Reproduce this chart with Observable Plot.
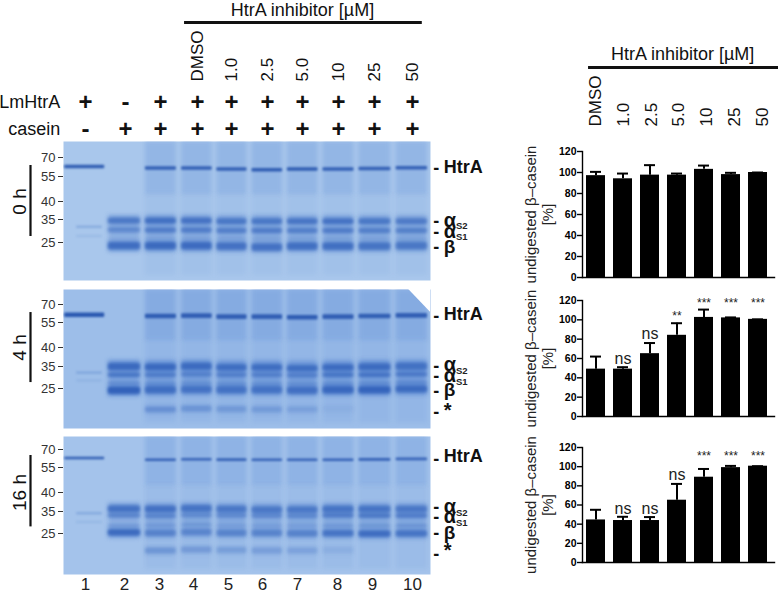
<!DOCTYPE html>
<html><head><meta charset="utf-8">
<script src="https://cdn.jsdelivr.net/npm/d3@7"></script>
<script src="https://cdn.jsdelivr.net/npm/@observablehq/plot@0.6"></script>
<style>
html,body{margin:0;padding:0;background:#fff}
#fig{position:relative;width:778px;height:594px;overflow:hidden;font-family:"Liberation Sans",Arial,sans-serif}
#fig svg{position:absolute;overflow:visible;max-width:none}
.thin{filter:blur(.9px)}
.band{filter:blur(1.4px)}
.halo{filter:blur(2.2px)}
.smear{filter:blur(2.2px)}
</style></head><body><div id="fig"></div>
<script>
// ---------- lanes ----------
const lanes = [1,2,3,4,5,6,7,8,9,10];
const lanePlus  = ["+","-","+","+","+","+","+","+","+","+"];
const caseinPlus= ["-","+","+","+","+","+","+","+","+","+"];
const doseLabels = ["DMSO","1.0","2.5","5.0","10","25","50"];
const doseLanes  = [4,5,6,7,8,9,10];
const kdaTicks = [70,55,40,35,25];

// ---------- gel band positions (apparent kDa per lane) and staining (0-1) ----------
const htrA0 = [62.5,null,61.3,61.3,60.6,60,60.6,60.6,61,61.5];
const htrA0i= [.95,0,.9,.9,.9,.95,.95,.9,.9,.9];
const as2_0 = [null,34.2,34.2,34.2,34,34,34,34,34,34];
const as2_0i= [0,.6,.72,.68,.62,.62,.65,.68,.62,.56];
const as1_0 = [null,30.3,30.2,30.2,30,30,30,30,30,30];
const as1_0i= [0,.42,.55,.55,.52,.55,.52,.55,.52,.5];
const up0   = [null,26.5,26.5,26.5,26.5,26.5,26.5,26.5,26.5,26.5];
const up0i  = [0,.06,.1,.1,.1,.1,.1,.1,.1,.1];
const beta0 = [null,23.6,23.6,23.6,23.4,23,23.4,23.4,23.4,23.6];
const beta0i= [0,.75,.8,.78,.68,.68,.72,.72,.66,.6];

const htrA4 = [61,null,60,60.3,59.5,59.5,59,59.5,60,60.5];
const htrA4i= [1,0,.95,.92,.92,.92,.95,.92,.92,.92];
const as2_4 = [null,34.5,34.3,34.6,34.2,34.2,33.9,34.2,34.4,34.6];
const as2_4i= [0,.8,.8,.75,.72,.72,.72,.75,.75,.66];
const as1_4 = [null,31,31,31.3,31,31,30.8,31,31,31.3];
const as1_4i= [0,.6,.5,.44,.46,.46,.46,.6,.64,.55];
const up4   = [null,27.2,27,27.2,27,27,27,27,27.2,27.6];
const up4i  = [0,.28,.26,.22,.22,.22,.22,.26,.26,.3];
const beta4 = [null,24.2,24.4,24.6,24.4,24.4,24.2,24.4,24.4,24.8];
const beta4i= [0,.95,.72,.64,.64,.64,.68,.82,.88,.75];
const star4 = [null,null,17,17.3,17.1,17,17,17.2,null,null];
const star4i= [0,0,.34,.3,.25,.24,.18,.06,0,0];

const htrA16 = [62.5,null,61,61.5,61.2,61,61,61,61.4,61.8];
const htrA16i= [.95,0,.9,.88,.88,.88,.88,.9,.9,.88];
const as2_16 = [null,35.5,35.4,35.6,35.4,35.2,35.2,35.4,35.4,35.4];
const as2_16i= [0,.68,.68,.64,.58,.58,.58,.64,.64,.58];
const as1_16 = [null,33,32.8,33.1,33,32.9,32.8,33,32.9,32.9];
const as1_16i= [0,.46,.44,.36,.38,.4,.4,.55,.6,.55];
const up16   = [null,28.4,28.6,28.8,28.4,28.4,28.4,28.4,28.4,28.4];
const up16i  = [0,.2,.2,.22,.14,.14,.14,.2,.22,.26];
const beta16 = [null,25.4,25.2,25.5,25.2,25.2,25,25.1,24.9,25];
const beta16i= [0,.8,.46,.42,.44,.44,.46,.64,.75,.64];
const star16 = [null,null,18.6,19,18.8,18.6,18.6,18.8,null,null];
const star16i= [0,0,.32,.28,.24,.24,.2,.1,0,0];

// lane 1 carries only two weak traces around 30 kDa
const trace0 = [31.6,27.6], trace4 = [32,28.4], trace16 = [34,30];
const traceOp = [.3,.12];

// ---------- bar charts ----------
const doses = doseLabels;
const mean0 = [97,94,97.5,97.5,103,98,100];
const top0  = [100.6,99,107,99,106.6,99.7,100];
const mean4 = [49,49,65,84,102.5,102,100.5];
const top4  = [62,51,76,96.5,110.6,102.5,100.5];
const mean16= [44.4,43.8,43.8,65,89,99,100.5];
const top16 = [55,47.7,47.4,82,97.6,100.8,100.5];
const sig4  = ["", "ns","ns","**","***","***","***"];
const sigY4 = [0,60,85,104,117,117,117];
const sig16 = ["", "ns","ns","ns","***","***","***"];
const sigY16= [0,56,56,91,111,111,111];

// ---------- shared helpers ----------
const FONT = "Liberation Sans, Arial, sans-serif";
const fig = document.getElementById("fig");
const place = (el, left, top) => { el.style.left = left+"px"; el.style.top = top+"px"; fig.append(el); };
const laneDomain = [0,...lanes,11];
const laneRange  = [45,85,125,160,197,231,267,302,338,374,412,447];
const laneX = {type:"linear", domain:laneDomain, range:laneRange};
const series = (vals, ints, half) => vals.map((k,i)=>k==null?null:{lane:lanes[i],k,half,op:ints[i]}).filter(Boolean);
const left = d => d.lane-(d.lane===1?.52:.43), right = d => d.lane+(d.lane===1?.48:.43);

function gel({kdaRange,bg,height,smearTop,smearMid,bodyTop,bodyOp,bodyBottom,bands,traces,labels,timeLabel,corner}){
  const haze = lanes.slice(2);
  const casein = lanes.slice(1);
  const htrARows = bands[0];
  const bandRows = bands.slice(1).flat();
  const traceRows = traces.map((k,i)=>({k,op:traceOp[i]}));
  return Plot.plot({
    width:500,height,marginLeft:63,marginRight:70,marginTop:0,marginBottom:0,
    style:{fontFamily:FONT,background:"transparent",overflow:"visible"},
    x:{...laneX,axis:null},
    y:{type:"linear",domain:[90,70,55,40,35,25,10],range:kdaRange,axis:null},
    marks:[
      Plot.frame({fill:bg,stroke:null}),
      Plot.rect(haze,{x1:d=>d-.43,x2:d=>d+.43,y1:90,y2:44,fill:"#4f82d2",fillOpacity:smearTop,className:"smear",clip:"frame"}),
      Plot.rect(haze,{x1:d=>d-.43,x2:d=>d+.43,y1:44,y2:12,fill:"#4f82d2",fillOpacity:smearMid,className:"smear",clip:"frame"}),
      Plot.rect(casein,{x1:d=>d-.4,x2:d=>d+.4,y1:bodyTop,y2:bodyBottom,fill:"#4a7bcc",fillOpacity:bodyOp,className:"smear",clip:"frame"}),
      Plot.rect(bandRows,{x1:left,x2:right,y1:d=>d.k+d.half*1.35,y2:d=>d.k-d.half*1.35,fill:"#4c7dce",fillOpacity:d=>d.op*.6,className:"halo",clip:"frame"}),
      Plot.rect(bandRows,{x1:left,x2:right,y1:d=>d.k+d.half*.85,y2:d=>d.k-d.half*.85,fill:"#2f5fb8",fillOpacity:"op",rx:2,className:"band",clip:"frame"}),
      Plot.rect(htrARows,{x1:left,x2:right,y1:d=>d.k+d.half,y2:d=>d.k-d.half,fill:"#2a58b0",fillOpacity:"op",rx:1,className:"thin",clip:"frame"}),
      Plot.rect(traceRows,{x1:.78,x2:1.42,y1:d=>d.k+.5,y2:d=>d.k-.5,fill:"#3d6cc0",fillOpacity:"op",className:"thin"}),
      corner ? Plot.area(corner,{x1:"lane",y1:"a",y2:"b",fill:"#fff",clip:"frame"}) : null,
      Plot.axisY({ticks:kdaTicks,anchor:"left",tickSize:5,tickPadding:3,fontSize:13,color:"#333",label:null,tickFormat:d=>d}),
      Plot.ruleX([-.375],{y1:timeLabel.barTop,y2:timeLabel.barBottom,strokeWidth:2.2,stroke:"#111"}),
      Plot.text([timeLabel.text],{x:-.63,y:40,rotate:-90,fontSize:timeLabel.size,fill:"#111"}),
      Plot.text(labels.filter(d=>d.dash!=null),{x:10.68,y:"dash",text:()=>"-",fontSize:18,fontWeight:"bold",fill:"#111"}),
      Plot.text(labels,{x:10.89,y:"k",text:"t",textAnchor:"start",fontSize:d=>d.size,fontWeight:"bold",fill:"#111"}),
      Plot.text(labels.filter(d=>d.sub),{x:11.24,y:"subk",text:"sub",textAnchor:"start",fontSize:9.5,fontWeight:"bold",fill:"#222"})
    ]
  });
}

function bars({mean,top,sig,sigY,height,bottom}){
  const rows = doses.map((d,i)=>({dose:d,mean:mean[i],top:top[i],sig:sig?sig[i]:"",sigY:sigY?sigY[i]:0}));
  return Plot.plot({
    width:268,height,marginLeft:72,marginRight:4,marginTop:12,marginBottom:bottom,
    style:{fontFamily:FONT,background:"transparent",overflow:"visible"},
    x:{type:"band",domain:doses,range:[75,259],paddingInner:.29,paddingOuter:0,axis:null},
    y:{domain:[0,120],axis:null},
    marks:[
      Plot.barY(rows,{x:"dose",y:"mean",fill:"#000"}),
      Plot.ruleX(rows,{x:"dose",y1:"mean",y2:"top",stroke:"#000",strokeWidth:2}),
      Plot.tickY(rows,{x:"dose",y:"top",insetLeft:4,insetRight:4,stroke:"#000",strokeWidth:2}),
      Plot.frame({anchor:"left",strokeWidth:1.4,stroke:"#000"}),
      Plot.frame({anchor:"bottom",strokeWidth:1.4,stroke:"#000"}),
      Plot.axisY({ticks:d3.range(0,121,20),tickSize:5,tickPadding:1,fontSize:10.5,fontWeight:"bold",label:null,strokeWidth:1.4,color:"#000",tickFormat:d=>d}),
      Plot.text(rows.filter(d=>d.sig==="ns"),{x:"dose",y:"sigY",text:"sig",fontSize:16,fill:"#222"}),
      Plot.text(rows.filter(d=>d.sig&&d.sig!=="ns"),{x:"dose",y:"sigY",text:"sig",fontSize:12,fill:"#222"}),
      Plot.text(["undigested β–casein"],{frameAnchor:"left",textAnchor:"middle",rotate:-90,dx:-51,fontSize:15,fill:"#222"}),
      Plot.text(["[%]"],{frameAnchor:"left",textAnchor:"middle",rotate:-90,dx:-34,fontSize:15,fill:"#222"})
    ]
  });
}

// ---------- left header ----------
const rowTitle=1,rowRule=2,rowDose=3,rowLm=4,rowCas=5;
place(Plot.plot({
  width:500,height:141,marginLeft:0,marginRight:0,marginTop:0,marginBottom:0,
  style:{fontFamily:FONT,background:"transparent",overflow:"visible"},
  x:{...laneX,axis:null},
  y:{type:"linear",domain:[1,2,3,4,5],range:[9.5,22,81,102,129],axis:null},
  marks:[
    Plot.text(["HtrA inhibitor [µM]"],{x:7,y:rowTitle,fontSize:18,fill:"#111"}),
    Plot.ruleY([rowRule],{x1:3.65,x2:10.28,strokeWidth:3,stroke:"#111"}),
    Plot.text(doseLabels,{x:(d,i)=>doseLanes[i],y:rowDose,rotate:-90,textAnchor:"start",fontSize:17,fill:"#111"}),
    Plot.text(["LmHtrA"],{x:0.37,y:rowLm,textAnchor:"end",fontSize:18,fill:"#111"}),
    Plot.text(["casein"],{x:0.37,y:rowCas,textAnchor:"end",fontSize:18,fill:"#111"}),
    Plot.text(lanePlus,{x:(d,i)=>lanes[i],y:rowLm,fontSize:24,fontWeight:"bold",fill:"#111"}),
    Plot.text(caseinPlus,{x:(d,i)=>lanes[i],y:rowCas,fontSize:24,fontWeight:"bold",fill:"#111"})
  ]
}),0,0);

// ---------- gels ----------
const lab = (t,k,dash,size=20,sub=null,subk=null)=>({t,k,dash,size,sub,subk});
place(gel({
  kdaRange:[0,16,35,60,78,101,139],height:139,bg:"#a9c7ec",smearTop:.24,smearMid:.08,
  bodyTop:36,bodyBottom:21.5,bodyOp:.25,
  bands:[series(htrA0,htrA0i,1.4),series(as2_0,as2_0i,1.35),series(as1_0,as1_0i,1.3),series(up0,up0i,.9),series(beta0,beta0i,1.7)],
  traces:trace0,
  labels:[lab("HtrA",62,61.3,18),lab("α",34.6,34.2,20,"S2",32),lab("α",29.8,29.4,20,"S1",27.2),lab("β",23.4,23,19)],
  timeLabel:{text:"0 h",size:19,barTop:63.7,barBottom:27.6}
}),0,141);
place(gel({
  kdaRange:[0,15,33,58,77,99,139],height:139,bg:"#9dbee9",smearTop:.3,smearMid:.12,
  bodyTop:36.5,bodyBottom:22.5,bodyOp:.32,
  bands:[series(htrA4,htrA4i,1.9),series(as2_4,as2_4i,1.5),series(as1_4,as1_4i,1.2),series(up4,up4i,1),series(beta4,beta4i,1.6),series(star4,star4i,1.3)],
  traces:trace4,
  labels:[lab("HtrA",61.7,60.6,18),lab("α",35.5,35.2,20,"S2",33.2),lab("α",30.9,30.5,20,"S1",28.2),lab("β",24.3,23.9,19),lab("*",16.8,16,20)],
  timeLabel:{text:"4 h",size:19,barTop:63.3,barBottom:27.7},
  corner:[{lane:9.9,a:90,b:90},{lane:10.6,a:90,b:61}]
}),0,289);
place(gel({
  kdaRange:[0,13,31,56,75,97,138],height:138,bg:"#a4c3eb",smearTop:.25,smearMid:.1,
  bodyTop:37,bodyBottom:23.5,bodyOp:.25,
  bands:[series(htrA16,htrA16i,1.1),series(as2_16,as2_16i,1.15),series(as1_16,as1_16i,1.1),series(up16,up16i,.9),series(beta16,beta16i,1.5),series(star16,star16i,1.3)],
  traces:trace16,
  labels:[lab("HtrA",64,62,18),lab("α",36.3,36,20,"S2",34.5),lab("α",32.7,32.3,20,"S1",30),lab("β",25.4,25,19),lab("*",18.6,17.3,20)],
  timeLabel:{text:"16 h",size:19,barTop:65,barBottom:28}
}),0,436);

// ---------- lane numbers ----------
place(Plot.plot({
  width:500,height:18,marginLeft:0,marginRight:0,marginTop:0,marginBottom:18,
  style:{fontFamily:FONT,background:"transparent",overflow:"visible"},
  x:{type:"linear",domain:lanes,range:[85,124,159,193,228,262,297,337,372,412],axis:null},
  marks:[Plot.axisX({ticks:lanes,tickSize:0,tickPadding:0,fontSize:17,color:"#222",label:null,tickFormat:d=>d,anchor:"bottom"})]
}),0,577);

// ---------- right header ----------
place(Plot.plot({
  width:268,height:140,marginLeft:0,marginRight:0,marginTop:0,marginBottom:0,
  style:{fontFamily:FONT,background:"transparent",overflow:"visible"},
  x:{type:"linear",domain:[0,6],range:[85,252],axis:null},
  y:{type:"linear",domain:[1,2,3],range:[54,67,126],axis:null},
  marks:[
    Plot.text(["HtrA inhibitor [µM]"],{x:3.13,y:1,fontSize:18,fill:"#111"}),
    Plot.ruleY([2],{x1:-.25,x2:6.6,strokeWidth:3,stroke:"#111"}),
    Plot.text(doseLabels,{x:(d,i)=>i,y:3,rotate:-90,textAnchor:"start",fontSize:17,fill:"#111"})
  ]
}),510,0);

// ---------- bar charts ----------
place(bars({mean:mean0,top:top0,height:144,bottom:6}),510,139);
place(bars({mean:mean4,top:top4,sig:sig4,sigY:sigY4,height:144,bottom:16}),510,288);
place(bars({mean:mean16,top:top16,sig:sig16,sigY:sigY16,height:144,bottom:17}),510,435);
</script></body></html>
